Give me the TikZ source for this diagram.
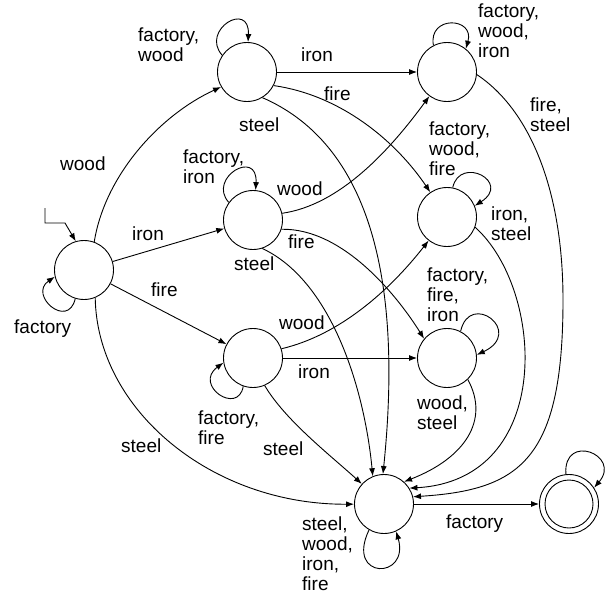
\documentclass[tikz,border=0pt]{standalone}
\usepackage{fontspec}
\setmainfont{Liberation Sans}
\usetikzlibrary{arrows.meta}
\begin{document}
\begin{tikzpicture}[x=1pt,y=-1pt,
  st/.style={circle, draw, minimum size=59pt, inner sep=0pt, line width=0.9pt},
  edge/.style={line width=0.9pt, -{Latex[length=8pt,width=6pt]}},
  lbl/.style={anchor=north west, inner sep=0pt, align=left, font=\fontsize{19}{20}\selectfont}]
\useasboundingbox (0,0) rectangle (616,597);
% states
\node[st] (S0) at (84,270) {};
\node[st] (A) at (247,72) {};
\node[st] (B) at (253,220) {};
\node[st] (C) at (253,358) {};
\node[st] (D) at (447,72) {};
\node[st] (E) at (447,217) {};
\node[st] (F) at (447,358) {};
\node[st] (G) at (384,504) {};
\node[st, path picture={\draw[line width=0.9pt] (path picture bounding box.center) circle (24pt);}] (H) at (569,504) {};
\coordinate (init) at (45,208);
\coordinate (dg) at (563,300);
% initial arrow
\draw[edge] (init) -- ++(0,15) -- ++(20,0) -- (S0.106);
% from S0
\draw[edge] (S0.253) .. controls (68,330) and (28,295) .. (S0.193);
\draw[edge] (S0.70) .. controls (105,175) and (160,115) .. (A.210);
\draw[edge] (S0) -- (B);
\draw[edge] (S0) -- (C);
\draw[edge] (S0.-68) .. controls (97,410) and (212,505) .. (G);
% from A
\draw[edge] (A.146) .. controls (200,30) and (250,0) .. (A.88);
\draw[edge] (A) -- (D);
\draw[edge] (A.-27) .. controls (340,95) and (395,140) .. (E);
\draw[edge] (A.-59) .. controls (360,140) and (405,260) .. (G.92);
% from B
\draw[edge] (B.144) .. controls (207,178) and (258,148) .. (B.85);
\draw[edge] (B.13) .. controls (340,205) and (390,150) .. (D);
\draw[edge] (B.-18) .. controls (345,228) and (400,300) .. (F.140);
\draw[edge] (B.-72) .. controls (330,280) and (364,385) .. (G.112);
% from C
\draw[edge] (C.251) .. controls (238,416) and (193,385) .. (C.189);
\draw[edge] (C.18) .. controls (340,335) and (390,290) .. (E);
\draw[edge] (C) -- (F);
\draw[edge] (C.-67) .. controls (285,420) and (330,455) .. (G);
% from D
\draw[edge] (D.117) .. controls (428,15) and (475,17) .. (D.51);
\draw[edge] (D.-5) .. controls (530,110) and (563,190) .. (dg) .. controls (563,460) and (520,490) .. (G.14);
% from E
\draw[edge] (E.79) .. controls (460,155) and (512,182) .. (E.22);
\draw[edge] (E.-20) .. controls (545,290) and (555,480) .. (G.32);
% from F
\draw[edge] (F.63) .. controls (470,290) and (525,332) .. (F.6);
\draw[edge] (F.-46) .. controls (490,420) and (465,458) .. (G.48);
% from G
\draw[edge] (G.240) .. controls (345,580) and (410,580) .. (G.294);
\draw[edge] (G) -- (H);
% from H
\draw[edge] (H.96) .. controls (563,432) and (622,455) .. (H.33);
% labels
\node[lbl] (l1) at (60,157) {wood};
\node[lbl] (l2) at (132,227) {iron};
\node[lbl] (l3) at (151,283) {fire};
\node[lbl] (l4) at (121,439) {steel};
\node[lbl] (l5) at (14,320) {factory};
\node[lbl] (l6) at (138,28) {factory,\\wood};
\node[lbl] (l7) at (301,48) {iron};
\node[lbl] (l8) at (324,87) {fire};
\node[lbl] (l9) at (239,118) {steel};
\node[lbl] (l10) at (183,150) {factory,\\iron};
\node[lbl] (l11) at (277,182) {wood};
\node[lbl] (l12) at (288,235) {fire};
\node[lbl] (l13) at (234,257) {steel};
\node[lbl] (l14) at (198,411) {factory,\\fire};
\node[lbl] (l15) at (279,316) {wood};
\node[lbl] (l16) at (298,365) {iron};
\node[lbl] (l17) at (263,442) {steel};
\node[lbl] (l18) at (478,4) {factory,\\wood,\\iron};
\node[lbl] (l19) at (530,98) {fire,\\steel};
\node[lbl] (l20) at (429,122) {factory,\\wood,\\fire};
\node[lbl] (l21) at (491,207) {iron,\\steel};
\node[lbl] (l22) at (427,268) {factory,\\fire,\\iron};
\node[lbl] (l23) at (417,396) {wood,\\steel};
\node[lbl] (l24) at (302,517) {steel,\\wood,\\iron,\\fire};
\node[lbl] (l25) at (446,515) {factory};
\end{tikzpicture}
\end{document}
